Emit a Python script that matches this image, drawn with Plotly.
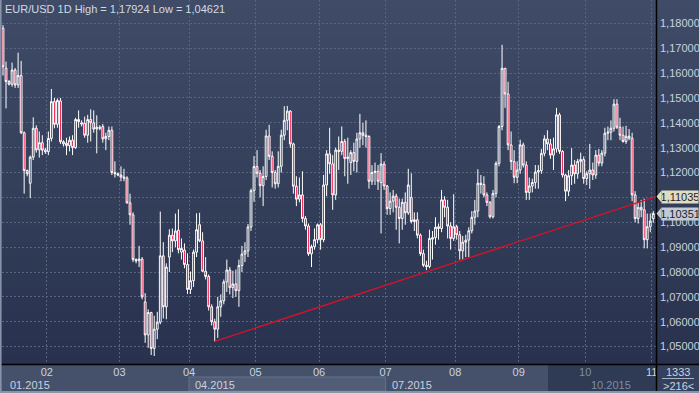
import plotly.graph_objects as go
import pandas as pd

# ---------------- data ----------------
weekday_bars = pd.bdate_range("2015-01-15", "2015-11-02")
sunday_bars = pd.to_datetime(["2015-01-18", "2015-01-25", "2015-02-01", "2015-02-08",
                              "2015-02-15", "2015-02-22", "2015-03-01", "2015-03-08"])
dates = list(weekday_bars.append(sunday_bars).sort_values())

open_ = [1.1780, 1.1620, 1.1566, 1.1555, 1.1612, 1.1552, 1.1590, 1.1360, 1.1208, 1.1157,
         1.1262, 1.1378, 1.1291, 1.1320, 1.1290, 1.1284, 1.1337, 1.1485, 1.1394, 1.1488,
         1.1324, 1.1318, 1.1308, 1.1330, 1.1300, 1.1413, 1.1400, 1.1398, 1.1350, 1.1413,
         1.1400, 1.1375, 1.1382, 1.1385, 1.1335, 1.1345, 1.1370, 1.1200, 1.1195, 1.1190,
         1.1182, 1.1178, 1.1078, 1.1030, 1.0850, 1.0845, 1.0852, 1.0680, 1.0547, 1.0637,
         1.0493, 1.0570, 1.0598, 1.0865, 1.0660, 1.0860, 1.0948, 1.0925, 1.0968, 1.0880,
         1.0888, 1.0830, 1.0730, 1.0765, 1.0880, 1.0990, 1.0925, 1.0803, 1.0782, 1.0660,
         1.0600, 1.0570, 1.0660, 1.0684, 1.0760, 1.0808, 1.0737, 1.0752, 1.0725, 1.0826,
         1.0872, 1.0885, 1.0981, 1.1127, 1.1224, 1.1197, 1.1147, 1.1184, 1.1347, 1.1265,
         1.1200, 1.1155, 1.1225, 1.1350, 1.1410, 1.1447, 1.1315, 1.1145, 1.1093, 1.1110,
         1.1015, 1.0985, 1.0873, 1.0902, 1.0930, 1.0990, 1.0930, 1.1150, 1.1275, 1.1235,
         1.1110, 1.1290, 1.1285, 1.1325, 1.1256, 1.1240, 1.1280, 1.1245, 1.1335, 1.1360,
         1.1350, 1.1345, 1.1165, 1.1200, 1.1205, 1.1160, 1.1234, 1.1146, 1.1055, 1.1085,
         1.1105, 1.1060, 1.1015, 1.1080, 1.1038, 1.1100, 1.1003, 1.1010, 1.0948, 1.0874,
         1.0827, 1.0822, 1.0932, 1.0938, 1.0982, 1.0975, 1.1090, 1.1060, 1.0985, 1.0935,
         1.0982, 1.0950, 1.0885, 1.0920, 1.0928, 1.0966, 1.1020, 1.1045, 1.1157, 1.1152,
         1.1110, 1.1080, 1.1022, 1.1116, 1.1237, 1.1385, 1.1619, 1.1516, 1.1311, 1.1244,
         1.1181, 1.1210, 1.1311, 1.1230, 1.1120, 1.1146, 1.1160, 1.1202, 1.1208, 1.1277,
         1.1335, 1.1315, 1.1270, 1.1295, 1.1432, 1.1285, 1.1190, 1.1125, 1.1187, 1.1230,
         1.1195, 1.1245, 1.1252, 1.1176, 1.1195, 1.1210, 1.1190, 1.1270, 1.1238, 1.1278,
         1.1358, 1.1362, 1.1378, 1.1475, 1.1382, 1.1350, 1.1325, 1.1346, 1.1338, 1.1110,
         1.1015, 1.1060, 1.1050, 1.0930, 1.0982, 1.1015]
high = [1.17924, 1.1646, 1.1572, 1.1642, 1.1620, 1.1682, 1.1649, 1.1365, 1.1212, 1.1268,
        1.1422, 1.1390, 1.1365, 1.1350, 1.1300, 1.1365, 1.1536, 1.1500, 1.1498, 1.1500,
        1.1330, 1.1340, 1.1345, 1.1350, 1.1420, 1.1450, 1.1410, 1.1425, 1.1432, 1.1454,
        1.1450, 1.1430, 1.1390, 1.1395, 1.1360, 1.1385, 1.1385, 1.1245, 1.1200, 1.1225,
        1.1215, 1.1185, 1.1115, 1.1040, 1.0855, 1.0905, 1.0860, 1.0715, 1.0650, 1.0640,
        1.0624, 1.0640, 1.1043, 1.0920, 1.0835, 1.0972, 1.0975, 1.1035, 1.1052, 1.0935,
        1.0915, 1.0875, 1.0802, 1.0890, 1.1036, 1.1038, 1.0960, 1.0860, 1.0790, 1.0670,
        1.0612, 1.0700, 1.0710, 1.0770, 1.0850, 1.0820, 1.0805, 1.0810, 1.0850, 1.0905,
        1.0920, 1.0993, 1.1135, 1.1266, 1.1290, 1.1210, 1.1225, 1.1372, 1.1392, 1.1285,
        1.1210, 1.1285, 1.1372, 1.1467, 1.1468, 1.1450, 1.1320, 1.1185, 1.1180, 1.1205,
        1.1025, 1.0995, 1.0910, 1.0975, 1.0995, 1.0997, 1.1190, 1.1290, 1.1380, 1.1270,
        1.1300, 1.1345, 1.1385, 1.1335, 1.1340, 1.1290, 1.1320, 1.1360, 1.1436, 1.1400,
        1.1410, 1.1350, 1.1230, 1.1240, 1.1230, 1.1278, 1.1245, 1.1150, 1.1120, 1.1130,
        1.1115, 1.1095, 1.1095, 1.1120, 1.1215, 1.1197, 1.1040, 1.1040, 1.0955, 1.0890,
        1.0845, 1.0970, 1.0965, 1.1020, 1.0995, 1.1130, 1.1105, 1.1090, 1.1000, 1.1113,
        1.0990, 1.0965, 1.0945, 1.0950, 1.0980, 1.1045, 1.1090, 1.1213, 1.1190, 1.1185,
        1.1120, 1.1085, 1.1130, 1.1245, 1.1391, 1.17135, 1.1620, 1.1565, 1.1365, 1.1290,
        1.1245, 1.1332, 1.1320, 1.1245, 1.1180, 1.1175, 1.1230, 1.1230, 1.1295, 1.1350,
        1.1370, 1.1335, 1.1340, 1.1460, 1.1440, 1.1290, 1.1195, 1.1210, 1.1298, 1.1250,
        1.1255, 1.1280, 1.1265, 1.1205, 1.1315, 1.1240, 1.1290, 1.1295, 1.1290, 1.1380,
        1.1385, 1.1410, 1.1495, 1.1495, 1.1420, 1.1385, 1.1388, 1.1375, 1.1360, 1.1125,
        1.1080, 1.1090, 1.1095, 1.1035, 1.1035, 1.1045]
low = [1.1590, 1.1458, 1.1550, 1.1545, 1.1540, 1.1540, 1.1355, 1.1115, 1.1185, 1.1097,
       1.1250, 1.1280, 1.1260, 1.1270, 1.1275, 1.1270, 1.1325, 1.1378, 1.1380, 1.1315,
       1.1305, 1.1270, 1.1285, 1.1270, 1.1295, 1.1380, 1.1385, 1.1340, 1.1320, 1.1325,
       1.1360, 1.1277, 1.1370, 1.1320, 1.1290, 1.1330, 1.1190, 1.1180, 1.1185, 1.1165,
       1.1165, 1.1075, 1.0990, 1.0840, 1.0835, 1.0820, 1.0690, 1.0515, 1.0495, 1.0466,
       1.04621, 1.0530, 1.0590, 1.0613, 1.0610, 1.0800, 1.0880, 1.0900, 1.0875, 1.0850,
       1.0815, 1.0712, 1.0712, 1.0740, 1.0860, 1.0920, 1.0800, 1.0770, 1.0645, 1.0585,
       1.0521, 1.0535, 1.0620, 1.0670, 1.0720, 1.0710, 1.0695, 1.0700, 1.0660, 1.0800,
       1.0840, 1.0860, 1.0965, 1.1082, 1.1180, 1.1100, 1.1065, 1.1170, 1.1250, 1.1140,
       1.1135, 1.1140, 1.1200, 1.1330, 1.1370, 1.1300, 1.1115, 1.1065, 1.1080, 1.1000,
       1.0970, 1.0865, 1.0820, 1.0890, 1.0915, 1.0890, 1.0920, 1.1105, 1.1195, 1.1050,
       1.1090, 1.1210, 1.1270, 1.1185, 1.1155, 1.1190, 1.1205, 1.1200, 1.1300, 1.1310,
       1.1300, 1.1135, 1.1150, 1.1150, 1.1130, 1.0955, 1.1130, 1.1030, 1.1030, 1.1040,
       1.0970, 1.0915, 1.0970, 1.0990, 1.1030, 1.0995, 1.0965, 1.0935, 1.0865, 1.0820,
       1.0808, 1.0815, 1.0850, 1.0910, 1.0930, 1.0960, 1.1020, 1.0935, 1.0890, 1.0925,
       1.0930, 1.0850, 1.0850, 1.0860, 1.0860, 1.0955, 1.0990, 1.1020, 1.1115, 1.1100,
       1.1065, 1.1015, 1.1015, 1.1100, 1.1225, 1.1370, 1.1460, 1.1290, 1.1210, 1.1157,
       1.1157, 1.1195, 1.1220, 1.1090, 1.1090, 1.1120, 1.1135, 1.1135, 1.1195, 1.1265,
       1.1290, 1.1255, 1.1210, 1.1280, 1.1275, 1.1180, 1.1085, 1.1105, 1.1150, 1.1155,
       1.1175, 1.1200, 1.1155, 1.1150, 1.1135, 1.1170, 1.1175, 1.1225, 1.1225, 1.1265,
       1.1330, 1.1330, 1.1365, 1.1375, 1.1330, 1.1320, 1.1315, 1.1330, 1.1085, 1.1000,
       1.0995, 1.1020, 1.0895, 1.0895, 1.0960, 1.0998]
close = [1.1625, 1.1566, 1.1555, 1.1612, 1.1552, 1.1590, 1.1360, 1.1208, 1.1195, 1.1262,
         1.1378, 1.1291, 1.1320, 1.1290, 1.1284, 1.1337, 1.1485, 1.1394, 1.1490, 1.1324,
         1.1315, 1.1308, 1.1330, 1.1300, 1.1413, 1.1405, 1.1395, 1.1350, 1.1413, 1.1400,
         1.1375, 1.1382, 1.1378, 1.1335, 1.1345, 1.1370, 1.1200, 1.1195, 1.1190, 1.1182,
         1.1178, 1.1078, 1.1030, 1.0850, 1.0845, 1.0852, 1.0700, 1.0547, 1.0637, 1.0493,
         1.0570, 1.0598, 1.0865, 1.0660, 1.0820, 1.0948, 1.0925, 1.0965, 1.0890, 1.0895,
         1.0830, 1.0730, 1.0765, 1.0880, 1.0970, 1.0925, 1.0803, 1.0782, 1.0660, 1.0600,
         1.0570, 1.0660, 1.0684, 1.0760, 1.0808, 1.0737, 1.0752, 1.0725, 1.0826, 1.0872,
         1.0885, 1.0981, 1.1127, 1.1224, 1.1197, 1.1147, 1.1184, 1.1347, 1.1265, 1.1200,
         1.1155, 1.1225, 1.1350, 1.1410, 1.1447, 1.1315, 1.1145, 1.1093, 1.1110, 1.1015,
         1.0985, 1.0873, 1.0902, 1.0930, 1.0990, 1.0930, 1.1150, 1.1275, 1.1235, 1.1110,
         1.1290, 1.1285, 1.1325, 1.1256, 1.1262, 1.1280, 1.1245, 1.1335, 1.1360, 1.1350,
         1.1345, 1.1165, 1.1200, 1.1205, 1.1165, 1.1234, 1.1146, 1.1055, 1.1085, 1.1105,
         1.1060, 1.1015, 1.1080, 1.1038, 1.1150, 1.1003, 1.1010, 1.0948, 1.0874, 1.0827,
         1.0822, 1.0935, 1.0938, 1.0980, 1.0975, 1.1090, 1.1060, 1.0985, 1.0935, 1.0982,
         1.0950, 1.0885, 1.0920, 1.0928, 1.0966, 1.1020, 1.1045, 1.1157, 1.1152, 1.1110,
         1.1080, 1.1022, 1.1116, 1.1237, 1.1385, 1.1619, 1.1516, 1.1311, 1.1244, 1.1181,
         1.1210, 1.1311, 1.1230, 1.1120, 1.1146, 1.1160, 1.1202, 1.1208, 1.1277, 1.1335,
         1.1315, 1.1270, 1.1295, 1.1432, 1.1285, 1.1190, 1.1125, 1.1187, 1.1230, 1.1195,
         1.1245, 1.1252, 1.1176, 1.1195, 1.1210, 1.1190, 1.1270, 1.1238, 1.1278, 1.1358,
         1.1362, 1.1378, 1.1475, 1.1382, 1.1350, 1.1325, 1.1346, 1.1338, 1.1110, 1.1015,
         1.1060, 1.1050, 1.0930, 1.0982, 1.1005, 1.10351]

price_ticks = [1.05, 1.06, 1.07, 1.08, 1.09, 1.10, 1.11, 1.12, 1.13, 1.14, 1.15, 1.16, 1.17, 1.18]
month_starts = ["2015-02-02", "2015-03-02", "2015-04-01", "2015-05-01", "2015-06-01",
                "2015-07-01", "2015-08-03", "2015-09-01", "2015-10-01", "2015-11-02"]
month_labels = ["02", "03", "04", "05", "06", "07", "08", "09", "10", "11"]
quarter_starts = ["2015-01-15", "2015-04-01", "2015-07-01", "2015-10-01"]
quarter_labels = ["01.2015", "04.2015", "07.2015", "10.2015"]

trend_start_date = "2015-04-13"
trend_start_value = 1.0521
trend_end_value = 1.11035
total_bars = 1333

# ---------------- layout helpers ----------------
W, H = 699, 393
ML, MR, MT, MB = 2, 43, 0, 29
PW, PH = W - ML - MR, H - MT - MB
def xp(px):
    return (px - ML) / PW
def yp(py):
    return (MT + PH - py) / PH

n = len(dates)
xs = list(range(n))
date_str = [d.strftime("%Y-%m-%d") for d in dates]
def idx(d):
    return date_str.index(d)

x_range = [-0.33, n - 0.1]
y_range = [1.04301, 1.18937]

LABEL = "#c9d2df"
DIM = "#7f8ca3"
FONT = "Liberation Sans Narrow, Arial Narrow, Liberation Sans, Arial, sans-serif"
FS = 11

fig = go.Figure()

fig.add_trace(go.Candlestick(
    x=xs, open=open_, high=high, low=low, close=close,
    increasing=dict(line=dict(color="#ffffff", width=1), fillcolor="rgba(0,0,0,0)"),
    decreasing=dict(line=dict(color="#ffffff", width=1), fillcolor="#ee0036"),
    whiskerwidth=0, hoverinfo="skip", showlegend=False,
))

# trend line
ti = idx(trend_start_date)
fig.add_trace(go.Scatter(
    x=[ti, x_range[1]], y=[trend_start_value, trend_end_value],
    mode="lines", line=dict(color="#dc1028", width=1.3),
    hoverinfo="skip", showlegend=False,
))

shapes = []
# gradient background
top_c = (64, 76, 103)
bot_c = (40, 50, 78)
steps = 48
for k in range(steps):
    t = k / (steps - 1)
    c = tuple(round(top_c[j] + (bot_c[j] - top_c[j]) * t) for j in range(3))
    y0 = yp(PH * k / steps)
    y1 = yp(PH * (k + 1) / steps)
    shapes.append(dict(type="rect", xref="paper", yref="paper", x0=xp(0), x1=xp(W),
                       y0=y1, y1=y0 + 0.001, fillcolor="rgb(%d,%d,%d)" % c,
                       line=dict(width=0), layer="below"))
# bottom axis area
shapes.append(dict(type="rect", xref="paper", yref="paper", x0=xp(0), x1=xp(656),
                   y0=yp(H), y1=yp(PH), fillcolor="#45516b", line=dict(width=0), layer="below"))
# second-quarter box
shapes.append(dict(type="rect", xref="x", yref="paper",
                   x0=idx(quarter_starts[1]) - 0.5, x1=idx(quarter_starts[2]) - 0.5,
                   y0=yp(391), y1=yp(377), fillcolor="#515c76",
                   line=dict(color="#66718a", width=1), layer="below"))
# dark viewport zone
shapes.append(dict(type="rect", xref="paper", yref="paper", x0=xp(548), x1=xp(656),
                   y0=yp(391), y1=yp(PH + 0.5), fillcolor="#2f3a55",
                   line=dict(width=0), layer="below"))
# corner box
shapes.append(dict(type="rect", xref="paper", yref="paper", x0=xp(656), x1=xp(W),
                   y0=yp(H), y1=yp(PH), fillcolor="#35415c", line=dict(width=0), layer="below"))
# separators
shapes.append(dict(type="line", xref="paper", yref="paper", x0=xp(656.5), x1=xp(656.5),
                   y0=yp(H), y1=yp(0), line=dict(color="#000000", width=1.5), layer="above"))
shapes.append(dict(type="line", xref="paper", yref="paper", x0=xp(0), x1=xp(W),
                   y0=yp(PH + 0.5), y1=yp(PH + 0.5), line=dict(color="#000000", width=1.5),
                   layer="above"))
shapes.append(dict(type="line", xref="paper", yref="paper", x0=xp(662), x1=xp(694),
                   y0=yp(378.5), y1=yp(378.5), line=dict(color="#aab4c4", width=1),
                   layer="above"))
# frame
shapes.append(dict(type="line", xref="paper", yref="paper", x0=xp(0.8), x1=xp(0.8),
                   y0=yp(H), y1=yp(0), line=dict(color="#8793a8", width=1.6), layer="above"))
shapes.append(dict(type="line", xref="paper", yref="paper", x0=xp(0), x1=xp(W),
                   y0=yp(H - 1), y1=yp(H - 1), line=dict(color="#8793a8", width=2), layer="above"))

# price tags
tags = [(trend_end_value, "#dfdcc2"), (close[-1], "#c3cad6")]
annotations = []
for val, bg in tags:
    shapes.append(dict(type="path", xref="paper", yref="y", xsizemode="pixel", ysizemode="pixel",
                       xanchor=xp(656.5), yanchor=val, path="M 0,0 L 5,6 L 5,-6 Z",
                       fillcolor=bg, line=dict(width=0), layer="above"))
    annotations.append(dict(xref="paper", yref="y", x=xp(661), y=val, xanchor="left",
                            yanchor="middle", showarrow=False,
                            text=("%.5f" % val).replace(".", ","),
                            font=dict(family=FONT, size=FS, color="#1b1f28"),
                            bgcolor=bg, borderpad=0, width=36, height=12, align="center"))

# header
annotations.append(dict(xref="paper", yref="paper", x=xp(3), y=yp(9), xanchor="left",
                        yanchor="middle", showarrow=False,
                        text="EUR/USD 1D High = %s Low = %s" % (
                            ("%.5f" % max(high)).replace(".", ","),
                            ("%.5f" % min(low)).replace(".", ",")),
                        font=dict(family=FONT, size=FS, color="#d2d9e3")))
# quarter labels
for q, lab in zip(quarter_starts, quarter_labels):
    qi = idx(q)
    col = DIM if q == quarter_starts[-1] else LABEL
    annotations.append(dict(xref="x", yref="paper", x=max(qi - 0.5, x_range[0]), y=yp(384.5),
                            xanchor="left", yanchor="middle", xshift=4 if qi > 0 else 6,
                            showarrow=False, text=lab,
                            font=dict(family=FONT, size=FS, color=col)))
# bars counter
annotations.append(dict(xref="paper", yref="paper", x=xp(678), y=yp(371.5), xanchor="center",
                        yanchor="middle", showarrow=False, text=str(total_bars),
                        font=dict(family=FONT, size=FS, color=LABEL)))
annotations.append(dict(xref="paper", yref="paper", x=xp(678), y=yp(385.5), xanchor="center",
                        yanchor="middle", showarrow=False, text=">%d<" % n,
                        font=dict(family=FONT, size=FS, color=LABEL)))

tick_text = []
for m, lab in zip(month_starts, month_labels):
    if m == "2015-10-01":
        tick_text.append("<span style='color:%s'>%s</span>" % (DIM, lab))
    else:
        tick_text.append(lab)

fig.update_layout(
    width=W, height=H,
    margin=dict(l=ML, r=MR, t=MT, b=MB, pad=0),
    paper_bgcolor="#36425d", plot_bgcolor="rgba(0,0,0,0)",
    showlegend=False, boxgap=0.15,
    font=dict(family=FONT, size=FS, color=LABEL),
    shapes=shapes, annotations=annotations,
    xaxis=dict(range=x_range, rangeslider=dict(visible=False),
               tickmode="array", tickvals=[idx(m) - 0.5 for m in month_starts],
               ticktext=tick_text, ticks="", showline=False, zeroline=False,
               showgrid=True, gridcolor="#59657f", griddash="2px,2px", gridwidth=1,
               tickfont=dict(family=FONT, size=FS, color=LABEL), ticklabelstandoff=0),
    yaxis=dict(range=y_range, side="right", tickmode="array", tickvals=price_ticks,
               ticktext=[("%.5f" % v).replace(".", ",") for v in price_ticks],
               ticks="", showline=False, zeroline=False,
               showgrid=True, gridcolor="#59657f", griddash="2px,2px", gridwidth=1,
               tickfont=dict(family=FONT, size=FS, color=LABEL), ticklabelstandoff=3),
)

fig.write_html("out.html", config={"displayModeBar": False},
               post_script="document.body.style.margin='0px';")
